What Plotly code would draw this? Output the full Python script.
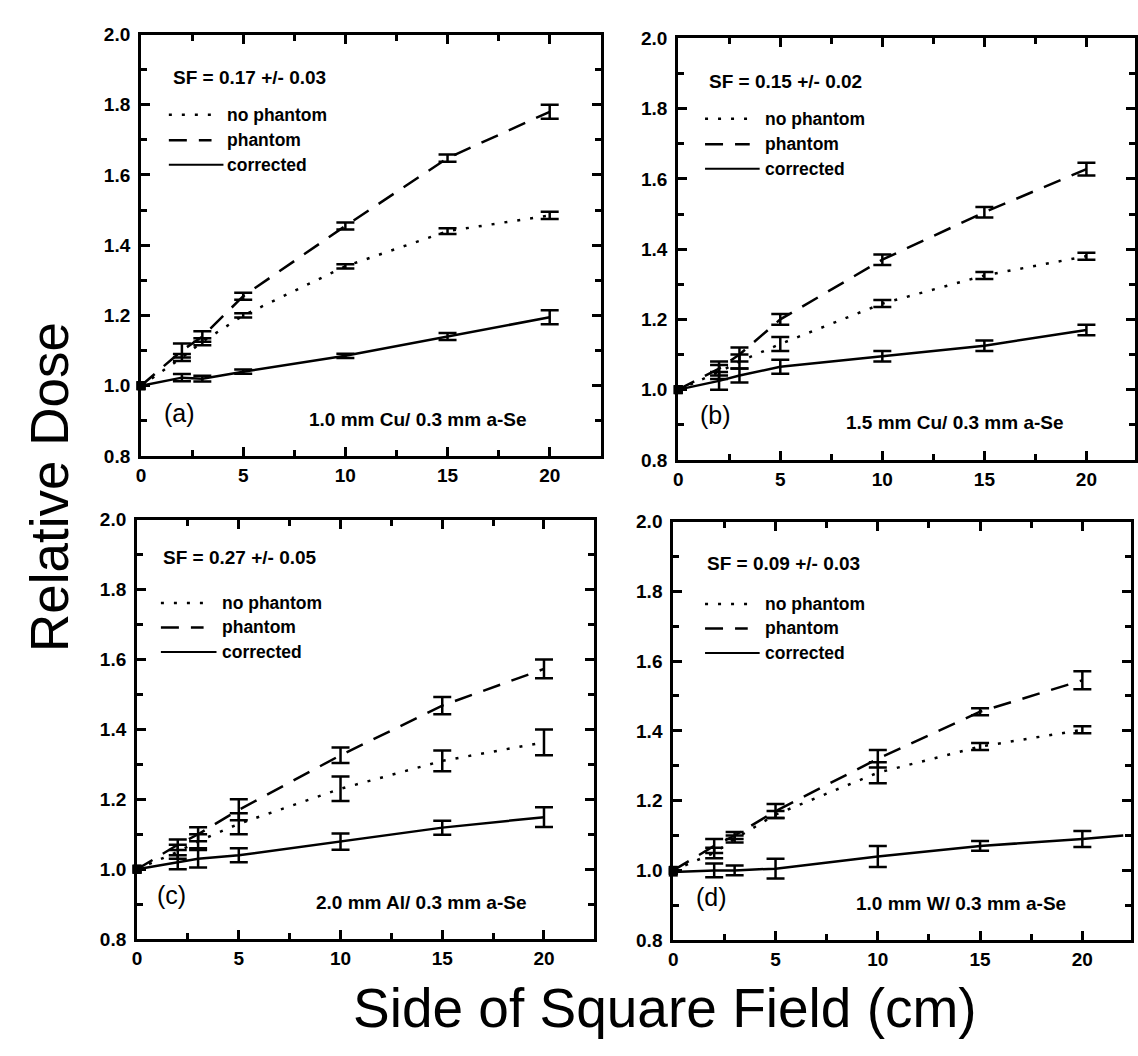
import plotly.graph_objects as go

W, H = 1138, 1056

# ---------------- data ----------------
x_field = [0, 2, 3, 5, 10, 15, 20]

# (a) 1.0 mm Cu / 0.3 mm a-Se
a_nophantom = [1.0, 1.08, 1.125, 1.20, 1.34, 1.44, 1.485]
a_nophantom_err = [0, 0.01, 0.01, 0.006, 0.006, 0.008, 0.01]
a_phantom = [1.0, 1.10, 1.14, 1.255, 1.455, 1.648, 1.78]
a_phantom_err = [0, 0.02, 0.015, 0.01, 0.01, 0.01, 0.02]
a_corrected = [1.0, 1.023, 1.02, 1.04, 1.085, 1.14, 1.195]
a_corrected_err = [0, 0.01, 0.008, 0.006, 0.006, 0.01, 0.02]

# (b) 1.5 mm Cu / 0.3 mm a-Se
b_nophantom = [1.0, 1.05, 1.08, 1.13, 1.245, 1.325, 1.38]
b_nophantom_err = [0, 0.02, 0.02, 0.02, 0.01, 0.01, 0.01]
b_phantom = [1.0, 1.06, 1.10, 1.20, 1.37, 1.505, 1.628]
b_phantom_err = [0, 0.02, 0.02, 0.015, 0.015, 0.015, 0.018]
b_corrected = [1.0, 1.025, 1.04, 1.065, 1.095, 1.125, 1.17]
b_corrected_err = [0, 0.025, 0.02, 0.02, 0.015, 0.015, 0.015]

# (c) 2.0 mm Al / 0.3 mm a-Se
c_nophantom = [1.0, 1.05, 1.08, 1.13, 1.23, 1.31, 1.363]
c_nophantom_err = [0, 0.02, 0.02, 0.03, 0.035, 0.03, 0.037]
c_phantom = [1.0, 1.07, 1.10, 1.17, 1.326, 1.468, 1.573]
c_phantom_err = [0, 0.015, 0.02, 0.03, 0.022, 0.025, 0.027]
c_corrected = [1.0, 1.02, 1.03, 1.04, 1.079, 1.119, 1.149]
c_corrected_err = [0, 0.02, 0.025, 0.02, 0.023, 0.02, 0.028]

# (d) 1.0 mm W / 0.3 mm a-Se
d_nophantom = [1.0, 1.05, 1.09, 1.16, 1.28, 1.355, 1.403]
d_nophantom_err = [0, 0.015, 0.01, 0.01, 0.03, 0.01, 0.01]
d_phantom = [1.0, 1.07, 1.10, 1.17, 1.32, 1.455, 1.545]
d_phantom_err = [0, 0.02, 0.01, 0.02, 0.025, 0.01, 0.026]
d_corrected_x = [0, 2, 3, 5, 10, 15, 20, 22]
d_corrected = [0.995, 1.0, 1.0, 1.005, 1.04, 1.07, 1.09, 1.10]
d_corrected_err = [0, 0.02, 0.014, 0.028, 0.03, 0.014, 0.023, 0]

sf_labels = ["SF = 0.17 +/- 0.03", "SF = 0.15 +/- 0.02",
             "SF = 0.27 +/- 0.05", "SF = 0.09 +/- 0.03"]
panel_letters = ["(a)", "(b)", "(c)", "(d)"]
detector_labels = ["1.0 mm Cu/ 0.3 mm a-Se", "1.5 mm Cu/ 0.3 mm a-Se",
                   "2.0 mm Al/ 0.3 mm a-Se", "1.0 mm W/ 0.3 mm a-Se"]
legend_names = ["no phantom", "phantom", "corrected"]

x_ticks = [0, 5, 10, 15, 20]
y_ticks = [0.8, 1.0, 1.2, 1.4, 1.6, 1.8, 2.0]

# ---------------- layout geometry (pixels) ----------------
panels = [
    dict(l=137, r=600, t=25, b=455, xmax=22.5, sf=(167, 69), rows=(107, 133, 158),
         samp=(165, 208, 220), txt=222, lab=(176, 411), det=(416, 418)),
    dict(l=678, r=1138, t=29, b=459, xmax=22.38, sf=(707, 73), rows=(111, 137, 162),
         samp=(705, 750, 760), txt=763, lab=(716, 413), det=(957, 421)),
    dict(l=133, r=593, t=520, b=948, xmax=22.45, sf=(157, 559), rows=(605, 630, 655),
         samp=(157, 200, 213), txt=217, lab=(168, 903), det=(419, 911)),
    dict(l=673, r=1134, t=522, b=949, xmax=22.38, sf=(705, 565), rows=(606, 631, 656),
         samp=(705, 748, 760), txt=763, lab=(711, 905), det=(963, 912)),
]

series = [
    [(x_field, a_nophantom, a_nophantom_err), (x_field, a_phantom, a_phantom_err),
     (x_field, a_corrected, a_corrected_err)],
    [(x_field, b_nophantom, b_nophantom_err), (x_field, b_phantom, b_phantom_err),
     (x_field, b_corrected, b_corrected_err)],
    [(x_field, c_nophantom, c_nophantom_err), (x_field, c_phantom, c_phantom_err),
     (x_field, c_corrected, c_corrected_err)],
    [(x_field, d_nophantom, d_nophantom_err), (x_field, d_phantom, d_phantom_err),
     (d_corrected_x, d_corrected, d_corrected_err)],
]

DOT = "3px,10px"
DASH = "18px,12px"
dashes = [DOT, DASH, "solid"]
LW = 2.5
FONT = "Liberation Sans, Arial, Helvetica, sans-serif"

def px(x):
    return x / W

def py(y):
    return 1 - y / H

fig = go.Figure()
shapes = []
annotations = []

for i, (p, ser) in enumerate(zip(panels, series)):
    sfx = "" if i == 0 else str(i + 1)
    xa, ya = "x" + sfx, "y" + sfx
    for k, (xs, ys, es) in enumerate(ser):
        # connecting line
        fig.add_trace(go.Scatter(
            x=xs, y=ys, xaxis=xa, yaxis=ya, mode="lines",
            line=dict(color="black", width=LW, dash=dashes[k]),
            showlegend=False, hoverinfo="skip"))
        # error bars
        idx = [j for j, e in enumerate(es) if e > 0]
        fig.add_trace(go.Scatter(
            x=[xs[j] for j in idx], y=[ys[j] for j in idx], xaxis=xa, yaxis=ya,
            mode="markers", marker=dict(size=4, color="black", opacity=0),
            error_y=dict(type="data", array=[es[j] for j in idx], visible=True,
                         color="black", thickness=2.5, width=9),
            showlegend=False, hoverinfo="skip"))
        # filled squares at the reference (zero) field point
        z = [j for j, xv in enumerate(xs) if xv == 0]
        fig.add_trace(go.Scatter(
            x=[xs[j] for j in z], y=[ys[j] for j in z], xaxis=xa, yaxis=ya,
            mode="markers", marker=dict(symbol="square", size=9, color="black"),
            cliponaxis=False, showlegend=False, hoverinfo="skip"))

    common = dict(showline=True, linewidth=3, linecolor="black", mirror="allticks",
                  ticks="inside", tickwidth=2.5, tickcolor="black", ticklen=9,
                  showgrid=False, zeroline=False,
                  tickfont=dict(family=FONT, size=19, color="black", weight="bold"))
    fig.layout["xaxis" + sfx] = dict(
        common, domain=[px(p["l"]), px(p["r"])], range=[0, p["xmax"]],
        anchor=ya, tickvals=x_ticks, ticktext=[str(v) for v in x_ticks],
        minor=dict(tickvals=[2.5, 7.5, 12.5, 17.5], ticks="inside", ticklen=6,
                   tickwidth=2.5, tickcolor="black", showgrid=False))
    fig.layout["yaxis" + sfx] = dict(
        common, domain=[py(p["b"]), py(p["t"])], range=[0.8, 2.0],
        anchor=xa, tickvals=y_ticks, ticktext=[f"{v:.1f}" for v in y_ticks],
        ticklabelstandoff=4,
        minor=dict(tickvals=[0.9, 1.1, 1.3, 1.5, 1.7, 1.9], ticks="inside", ticklen=6,
                   tickwidth=2.5, tickcolor="black", showgrid=False))

    # text annotations
    tf = dict(family=FONT, size=17.5, color="black", weight="bold")
    tf_wide = dict(family=FONT, size=19, color="black", weight="bold")
    annotations.append(dict(xref="paper", yref="paper", x=px(p["sf"][0]), y=py(p["sf"][1]),
                            text=sf_labels[i], showarrow=False, xanchor="left",
                            yanchor="middle", font=tf_wide))
    for k, name in enumerate(legend_names):
        yy = p["rows"][k]
        x1 = p["samp"][1] if k < 2 else p["samp"][2]
        shapes.append(dict(type="line", xref="paper", yref="paper",
                           x0=px(p["samp"][0]), x1=px(x1), y0=py(yy), y1=py(yy),
                           line=dict(color="black", width=LW if k < 2 else 2,
                                     dash=dashes[k])))
        annotations.append(dict(xref="paper", yref="paper", x=px(p["txt"]), y=py(yy),
                                text=name, showarrow=False, xanchor="left",
                                yanchor="middle", font=tf))
    annotations.append(dict(xref="paper", yref="paper", x=px(p["lab"][0]), y=py(p["lab"][1]),
                            text=panel_letters[i], showarrow=False, xanchor="center",
                            yanchor="middle", font=dict(family=FONT, size=25, color="black")))
    annotations.append(dict(xref="paper", yref="paper", x=px(p["det"][0]), y=py(p["det"][1]),
                            text=detector_labels[i], showarrow=False, xanchor="center",
                            yanchor="middle", font=tf_wide))

annotations.append(dict(xref="paper", yref="paper", x=px(45), y=py(487),
                        text="Relative Dose", textangle=-90, showarrow=False,
                        xanchor="center", yanchor="middle",
                        font=dict(family=FONT, size=53, color="black")))
annotations.append(dict(xref="paper", yref="paper", x=px(665), y=py(1018),
                        text="Side of Square Field (cm)", showarrow=False,
                        xanchor="center", yanchor="middle",
                        font=dict(family=FONT, size=55, color="black")))

fig.update_layout(width=W, height=H, margin=dict(l=0, r=0, t=0, b=0),
                  paper_bgcolor="white", plot_bgcolor="white",
                  shapes=shapes, annotations=annotations, showlegend=False)

fig.write_html("out.html")
